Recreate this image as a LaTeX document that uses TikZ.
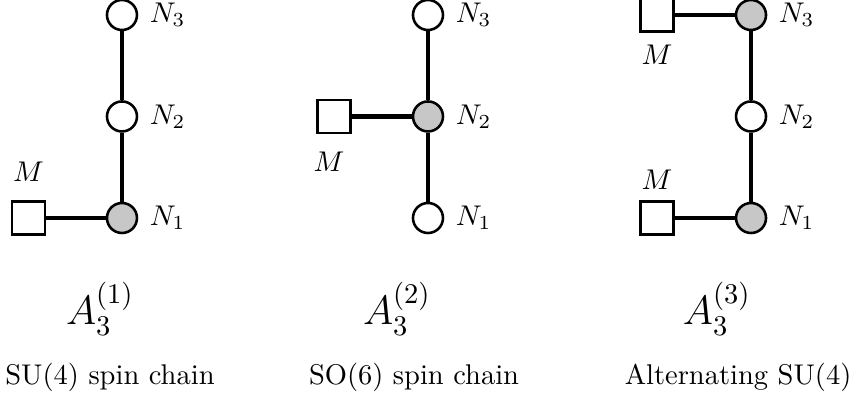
\documentclass[tikz,border=0pt]{standalone}
\usepackage{amsmath,amssymb}
\usepackage{tikz}
\usetikzlibrary{positioning}

\begin{document}
\begin{tikzpicture}[
  gauge/.style={circle, draw, line width=0.9pt, fill=white, minimum size=0.37cm, inner sep=0pt},
  flavour/.style={rectangle, draw, line width=0.9pt, fill=white, minimum size=0.41cm, inner sep=0pt},
  link/.style={line width=1.5pt},
  nlab/.style={label={[label distance=0.5pt]right:$N_{#1}$}}]
  \useasboundingbox (0,0) rectangle (10.505,5.043);

  % A_3^(1): SU(4) spin chain
  \node[gauge, nlab=3] (a3) at (1.504,4.858) {};
  \node[gauge, nlab=2] (a2) at (1.504,3.607) {};
  \node[gauge, nlab=1, fill=black!22] (a1) at (1.504,2.355) {};
  \node[flavour] (am) at (0.351,2.355) {};
  \node[above=0.1cm of am] (amlab) {$M$};
  \draw[link] (a1) -- (a2) -- (a3);
  \draw[link] (am) -- (a1);
  \node (aname) at (1.233,1.233) {\Large $A_3^{(1)}$};
  \node[anchor=base] (atext) at (1.356,0.296) {SU(4) spin chain};

  % A_3^(2): SO(6) spin chain
  \node[gauge, nlab=3] (b3) at (5.277,4.858) {};
  \node[gauge, nlab=2, fill=black!22] (b2) at (5.277,3.607) {};
  \node[gauge, nlab=1] (b1) at (5.277,2.355) {};
  \node[flavour] (bm) at (4.118,3.607) {};
  \node[below=0.09cm of bm, xshift=-0.06cm] (bmlab) {$M$};
  \draw[link] (b1) -- (b2) -- (b3);
  \draw[link] (bm) -- (b2);
  \node (bname) at (4.895,1.233) {\Large $A_3^{(2)}$};
  \node[anchor=base] (btext) at (5.105,0.296) {SO(6) spin chain};

  % A_3^(3): alternating SU(4)
  \node[gauge, nlab=3, fill=black!22] (c3) at (9.26,4.858) {};
  \node[gauge, nlab=2] (c2) at (9.26,3.607) {};
  \node[gauge, nlab=1, fill=black!22] (c1) at (9.26,2.355) {};
  \node[flavour] (cm3) at (8.10,4.858) {};
  \node[flavour] (cm1) at (8.10,2.355) {};
  \node[below=0.02cm of cm3] (cm3lab) {$M$};
  \node[above=0.01cm of cm1] (cm1lab) {$M$};
  \draw[link] (c1) -- (c2) -- (c3);
  \draw[link] (cm3) -- (c3);
  \draw[link] (cm1) -- (c1);
  \node (cname) at (8.84,1.233) {\Large $A_3^{(3)}$};
  \node[anchor=base] (ctext) at (9.10,0.296) {Alternating SU(4)};
\end{tikzpicture}
\end{document}
